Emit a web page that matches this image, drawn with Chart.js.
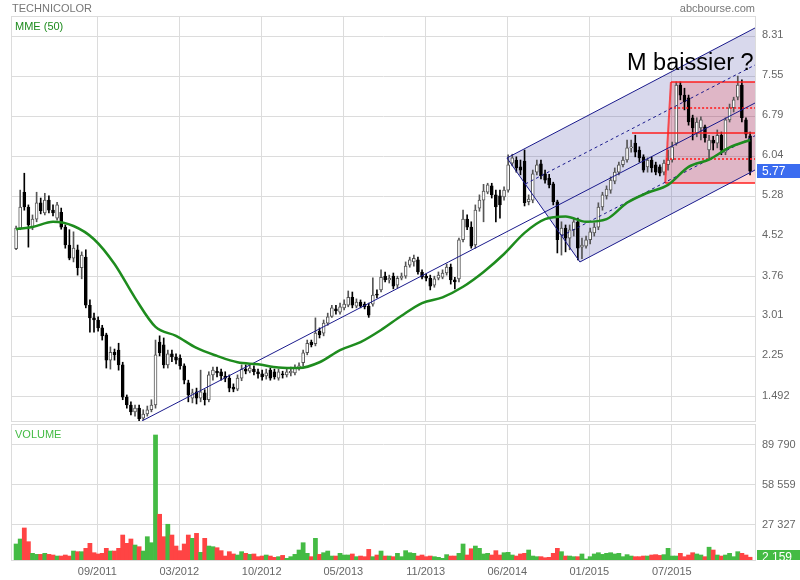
<!DOCTYPE html>
<html>
<head>
<meta charset="utf-8">
<script src="https://cdn.jsdelivr.net/npm/chart.js@4.4.0/dist/chart.umd.min.js"></script>
<style>
  body { margin: 0; background: #fff; font-family: "Liberation Sans", Arial, sans-serif; }
  #wrap { position: relative; width: 800px; height: 580px; overflow: hidden; }
  canvas { position: absolute; left: 0; }
  .lbl { position: absolute; font-size: 11px; white-space: nowrap; }
</style>
</head>
<body>
<div id="wrap">
  <canvas id="prix" width="800" height="423" style="top:0"></canvas>
  <canvas id="vol" width="800" height="157" style="top:423px"></canvas>
  <div class="lbl" style="left:12px;top:2px;color:#777">TECHNICOLOR</div>
  <div class="lbl" style="right:45px;top:2px;color:#777">abcbourse.com</div>
  <div class="lbl" style="left:15px;top:20px;color:#1e8c1e">MME (50)</div>
  <div class="lbl" style="left:15px;top:428px;color:#44bb44">VOLUME</div>
  <div style="position:absolute;left:627px;top:49px;font-size:23.5px;color:#000;white-space:nowrap">M baissier ?</div>
</div>
<script>
// ---- données ----
const dateLabels = ["09/2011", "03/2012", "10/2012", "05/2013", "11/2013", "06/2014", "01/2015", "07/2015"];
const dateTicks = [20.8, 40.8, 60.9, 80.8, 100.9, 120.8, 140.8, 160.9];
const xMax = 181.2;

const priceLabels = ["1.492", "2.25", "3.01", "3.76", "4.52", "5.28", "6.04", "6.79", "7.55", "8.31"];
const priceTicks = [1.492, 2.25, 3.008, 3.765, 4.523, 5.281, 6.038, 6.796, 7.554, 8.311];
const volLabels = ["27 327", "58 559", "89 790"];
const volTicks = [27327, 58559, 89790];

const opens = [
  4.30,4.69,5.37,5.09,4.71,4.86,5.17,4.98,5.22,5.03, 4.88,4.99,4.71,4.37,4.12,4.28,3.94,4.14,3.23,2.99,
  2.95,2.80,2.67,2.19,2.34,2.38,2.10,1.49,1.34,1.21, 1.28,1.09,1.17,1.25,1.34,2.53,2.48,2.10,2.31,2.25,
  2.23,2.08,1.76,1.47,1.59,1.47,1.57,1.44,1.91,1.98, 1.97,1.89,1.85,1.68,1.64,1.85,2.02,1.98,2.02,1.97,
  1.93,1.89,2.00,1.97,1.85,1.93,1.91,1.95,1.95,2.04, 2.14,2.33,2.53,2.50,2.74,2.70,2.89,3.02,3.16,3.10,
  3.18,3.23,3.38,3.21,3.29,3.25,3.21,3.25,3.44,3.52, 3.78,3.71,3.78,3.61,3.74,3.78,3.99,4.05,4.09,3.86,
  3.78,3.74,3.61,3.74,3.76,3.84,3.95,3.71,3.73,4.47, 4.86,4.71,4.37,5.07,5.22,5.37,5.49,5.32,5.30,5.28,
  5.41,5.92,5.98,5.85,5.96,5.19,5.22,5.75,5.91,5.72, 5.64,5.53,5.19,4.56,4.69,4.50,4.66,4.81,4.33,4.35,
  4.47,4.60,4.71,5.09,5.30,5.41,5.58,5.75,5.89,5.98, 6.21,6.30,6.17,6.04,5.85,5.98,5.89,5.85,5.75,5.89,
  5.98,6.30,7.40,7.21,7.16,6.78,6.49,6.59,6.61,6.17, 6.36,6.30,6.45,6.13,6.74,6.97,7.17,7.40,6.74,6.44
];
const highs = [
  4.73,5.41,5.73,5.13,4.94,5.37,5.26,5.35,5.30,5.13, 5.18,5.07,4.75,4.66,4.62,4.37,4.24,4.28,3.33,3.08,
  3.01,2.85,2.70,2.44,2.40,2.51,2.15,1.53,1.40,1.34, 1.34,1.25,1.32,1.44,2.57,2.65,2.61,2.38,2.38,2.31,
  2.29,2.12,1.81,1.64,1.66,2.00,1.63,1.97,2.06,2.06, 2.02,1.97,1.91,1.74,1.91,2.10,2.10,2.12,2.08,2.02,
  2.00,2.02,2.04,2.02,2.02,1.98,2.02,2.06,2.10,2.14, 2.38,2.57,2.57,2.99,2.80,2.95,3.08,3.23,3.23,3.27,
  3.33,3.50,3.48,3.35,3.33,3.29,3.27,3.75,3.52,3.90, 3.86,3.80,3.84,3.78,3.84,4.05,4.14,4.18,4.14,3.90,
  3.82,3.80,3.78,3.86,3.90,4.01,4.01,3.76,4.50,5.03, 4.94,4.81,5.13,5.32,5.52,5.54,5.54,5.41,5.41,5.47,
  6.08,6.09,6.04,5.98,6.17,5.32,5.79,5.98,5.98,5.79, 5.71,5.56,5.22,4.81,4.75,4.75,4.88,4.88,4.50,4.54,
  4.69,4.79,5.17,5.37,5.49,5.66,5.83,5.94,6.04,6.36, 6.36,6.45,6.23,6.08,6.02,6.04,5.94,5.89,5.98,6.17,
  6.32,7.46,7.46,7.34,7.21,6.83,6.78,6.80,6.64,6.45, 6.43,6.55,6.51,6.78,7.04,7.17,7.57,7.50,6.78,6.51
];
const lows = [
  4.28,4.66,5.03,4.33,4.66,4.81,4.96,4.94,4.98,4.92, 4.84,4.67,4.31,4.09,4.05,3.80,3.73,3.18,2.72,2.72,
  2.74,2.57,2.04,2.02,2.19,2.00,1.44,1.28,1.15,1.13, 1.04,1.06,1.13,1.21,1.28,2.27,2.04,2.04,2.16,2.12,
  2.02,1.74,1.40,1.38,1.36,1.40,1.34,1.40,1.81,1.87, 1.81,1.78,1.59,1.59,1.61,1.80,1.93,1.95,1.91,1.85,
  1.81,1.83,1.81,1.83,1.81,1.85,1.87,1.89,1.91,2.00, 2.08,2.29,2.44,2.46,2.61,2.65,2.85,3.00,3.06,3.06,
  3.14,3.20,3.18,3.18,3.18,3.16,3.00,3.21,3.37,3.48, 3.67,3.65,3.54,3.56,3.71,3.74,3.95,3.97,3.82,3.73,
  3.69,3.52,3.57,3.71,3.73,3.80,3.63,3.54,3.67,4.43, 4.66,4.31,4.31,5.01,4.81,5.34,5.26,4.81,4.88,5.22,
  5.37,5.87,5.75,5.70,5.11,5.13,5.17,5.70,5.62,5.54, 5.45,5.13,4.22,4.18,4.24,4.28,4.54,4.09,4.11,4.31,
  4.39,4.54,4.66,5.03,5.24,5.35,5.53,5.70,5.85,5.94, 6.13,6.04,5.94,5.75,5.75,5.75,5.70,5.68,5.70,5.79,
  5.94,6.26,7.12,6.93,6.64,6.36,6.42,6.36,6.32,6.02, 6.17,6.21,6.08,6.08,6.70,6.89,7.12,6.70,6.40,5.70
];
const closes = [
  4.69,5.09,5.09,4.75,4.86,5.17,5.02,5.22,5.03,4.98, 5.13,4.71,4.37,4.12,4.31,3.94,4.18,3.23,2.99,2.95,
  2.80,2.65,2.19,2.34,2.29,2.10,1.49,1.34,1.21,1.28, 1.08,1.17,1.25,1.34,2.29,2.33,2.10,2.31,2.25,2.19,
  2.08,1.81,1.53,1.57,1.47,1.59,1.44,1.91,2.00,1.95, 1.89,1.85,1.66,1.64,1.85,2.02,1.98,2.04,1.97,1.93,
  1.87,1.95,1.85,1.87,1.97,1.91,1.97,1.98,2.04,2.08, 2.33,2.51,2.48,2.70,2.67,2.89,3.01,3.18,3.12,3.20,
  3.25,3.38,3.23,3.29,3.21,3.20,3.04,3.42,3.42,3.76, 3.71,3.74,3.59,3.74,3.78,3.97,4.09,4.12,3.86,3.76,
  3.74,3.59,3.73,3.80,3.84,3.95,3.71,3.67,4.47,4.86, 4.71,4.35,5.03,5.22,5.39,5.51,5.32,5.09,5.13,5.41,
  5.89,6.02,5.83,5.79,5.17,5.24,5.72,5.89,5.68,5.60, 5.51,5.19,4.47,4.69,4.50,4.66,4.81,4.31,4.37,4.47,
  4.62,4.71,5.09,5.32,5.43,5.60,5.75,5.89,5.98,6.21, 6.23,6.13,6.02,5.79,5.98,5.83,5.75,5.73,5.92,5.98,
  6.23,7.40,7.21,7.08,6.70,6.59,6.70,6.74,6.40,6.36, 6.30,6.45,6.17,6.74,6.97,7.12,7.40,6.78,6.47,5.77
];
const volumes = [
  12500,16400,25000,14300,5200,4400,4400,5200,4400,3900, 3100,3100,3900,3100,7000,6500,6500,9100,13000,5700,
  4700,5200,9100,7000,7000,9100,19500,13000,16400,11700, 10400,7000,18200,13500,97600,35700,18200,27900,19500,10900,
  7300,12500,19500,16900,20800,6000,16900,10900,10400,9600, 7300,3100,6500,4700,3900,6500,5200,4400,4700,2600,
  3100,3900,3100,2100,2600,3600,1300,2600,4400,7800, 13500,5200,2600,16900,4400,5700,7000,3100,3100,5200,
  3900,3900,4700,2600,3100,2600,8300,2600,3900,7000, 3100,3100,2600,5200,2600,7300,5700,5200,3100,3900,
  2600,3100,2600,2100,1300,4200,3100,3100,5200,12500, 3900,8800,10900,9100,4700,5200,3900,7300,3900,5700,
  6000,3900,3100,4700,5200,7800,3100,2600,2600,1800, 2100,5200,9100,6500,3100,3100,2600,2600,4700,800,
  2600,4700,5700,4400,5200,5700,4700,5200,2600,4200, 3100,2600,2600,3100,3100,3900,4200,3600,4200,9100,
  3100,3100,5200,2600,3900,5700,4700,3900,2600,10000, 7800,3900,3100,3900,5200,2600,6500,5200,3900,2159
];

// MME (50), tous les 5 barres
const mmeBar = [1,5,10,15,20,25,30,35,40,45,50,55,60,65,70,75,80,85,90,95,100,105,110,115,120,125,130,135,140,145,150,155,160,165,170,175,180];
const mmeVal = [4.67,4.71,4.81,4.73,4.48,4.01,3.37,2.82,2.65,2.42,2.27,2.15,2.11,2.05,2.04,2.15,2.38,2.53,2.76,3.03,
                3.27,3.38,3.58,3.86,4.20,4.60,4.86,4.91,4.81,4.86,5.17,5.36,5.51,5.85,5.99,6.22,6.36];

// tracés (barre, cours)
const mediane = [[31.7, 1.038], [181.2, 7.060]];
const fourcheHaute = [[120.7, 6.019], [181.2, 8.481]];
const fourcheBasse = [[138.5, 4.049], [181.2, 5.791]];
const fourcheBord = [[120.7, 6.019], [138.5, 4.049]];
const pointilleHaut = [[125.2, 5.527], [181.2, 7.78]];
const pointilleBas = [[134.0, 4.541], [181.2, 6.44]];
const fourcheZone = [[120.7, 6.019], [181.2, 8.481], [181.2, 5.791], [138.5, 4.049]];

const boiteZone = [[159.3, 5.545], [160.7, 7.458], [181.2, 7.458], [181.2, 5.545]];
const boiteHaut = [[160.7, 7.458], [181.2, 7.458]];
const boiteBas = [[159.3, 5.545], [181.2, 5.545]];
const boiteGauche = [[159.3, 5.545], [160.7, 7.458]];
const ligneCou = [[151.2, 6.492], [181.2, 6.492]];
const repereHaut = [[160.5, 6.966], [181.2, 6.966]];
const repereBas = [[159.5, 6.000], [181.2, 6.000]];

// ---- construction ----
Chart.defaults.font.family = '"Liberation Sans", Arial, sans-serif';
Chart.defaults.font.size = 11;
Chart.defaults.color = "#666";

const GRID = "#dcdcdc";
const bars = closes.map((c, i) => i + 1);
const up = closes.map((c, i) => c >= opens[i]);
const toXY = pts => pts.map(p => ({ x: p[0], y: p[1] }));

function ligne(pts, color, width, dash) {
    return {
        type: "line", data: toXY(pts), borderColor: color, borderWidth: width,
        borderDash: dash || [], pointRadius: 0, tension: 0, order: 1
    };
}

// cadre + zones colorées
const fondPlugin = {
    id: "fond",
    beforeDatasetsDraw(chart, args, opts) {
        const { ctx, chartArea: a, scales: { x, y } } = chart;
        ctx.save();
        ctx.strokeStyle = GRID;
        ctx.lineWidth = 1;
        ctx.strokeRect(a.left - 0.5, a.top - 0.5, a.right - a.left + 1, a.bottom - a.top + 1);
        ctx.beginPath();
        ctx.rect(a.left, a.top, a.right - a.left, a.bottom - a.top);
        ctx.clip();
        (opts.zones || []).forEach(z => {
            ctx.beginPath();
            z.pts.forEach((p, i) => {
                const px = x.getPixelForValue(p[0]), py = y.getPixelForValue(p[1]);
                if (i) ctx.lineTo(px, py); else ctx.moveTo(px, py);
            });
            ctx.closePath();
            ctx.fillStyle = z.color;
            ctx.fill();
        });
        ctx.restore();
    }
};

// étiquette de la dernière valeur
const dernierPlugin = {
    id: "dernier",
    afterDraw(chart, args, opts) {
        const { ctx, chartArea: a, scales: { y } } = chart;
        const py = Math.round(y.getPixelForValue(opts.value));
        ctx.save();
        ctx.beginPath();
        ctx.rect(a.right, 0, chart.width - a.right, a.bottom);
        ctx.clip();
        ctx.fillStyle = opts.color;
        ctx.fillRect(a.right + 2, py - 7, chart.width - a.right - 2, 14);
        ctx.fillStyle = "#fff";
        ctx.font = '12px "Liberation Sans", Arial, sans-serif';
        ctx.textBaseline = "middle";
        ctx.fillText(opts.text, a.right + 7, py + 1);
        ctx.restore();
    }
};

// axe vertical à largeur fixe, sans marge pour les étiquettes
const axeFixe = s => { s.width = 45; s.paddingTop = 0; s.paddingBottom = 0; };

const xCommun = {
    type: "linear", min: 0, max: xMax, offset: false,
    afterBuildTicks: s => { s.ticks = dateTicks.map(v => ({ value: v })); },
    grid: { color: GRID, drawTicks: false, offset: false },
    border: { display: false }
};

new Chart(document.getElementById("prix"), {
    type: "bar",
    data: {
        datasets: [
            {
                type: "line", data: mmeBar.map((b, i) => ({ x: b, y: mmeVal[i] })),
                borderColor: "#1e8c1e", borderWidth: 2.5, pointRadius: 0,
                cubicInterpolationMode: "monotone", order: 0
            },
            ligne(mediane, "#1a1a8c", 1),
            ligne(fourcheHaute, "#1a1a8c", 1),
            ligne(fourcheBasse, "#1a1a8c", 1),
            ligne(fourcheBord, "#1a1a8c", 1),
            ligne(pointilleHaut, "#1a1a8c", 1, [3, 3]),
            ligne(pointilleBas, "#1a1a8c", 1, [3, 3]),
            ligne(boiteHaut, "rgba(255,30,30,0.75)", 2),
            ligne(boiteBas, "rgba(255,30,30,0.75)", 2),
            ligne(boiteGauche, "rgba(255,30,30,0.75)", 2),
            ligne(ligneCou, "rgba(255,30,30,0.75)", 2),
            ligne(repereHaut, "rgba(255,30,30,0.8)", 2, [2, 2]),
            ligne(repereBas, "rgba(255,30,30,0.8)", 2, [2, 2]),
            {
                data: bars.map((b, i) => ({ x: b, y: [opens[i], closes[i]] })),
                backgroundColor: up.map(u => u ? "#fff" : "#000"),
                borderColor: up.map(u => u ? "#555" : "#000"),
                borderWidth: 1, borderSkipped: false, barThickness: 3, grouped: false, order: 2
            },
            {
                data: bars.map((b, i) => ({ x: b, y: [lows[i], highs[i]] })),
                backgroundColor: up.map(u => u ? "#555" : "#000"),
                borderWidth: 0, barThickness: 1, grouped: false, order: 3
            }
        ]
    },
    options: {
        responsive: false, animation: false, devicePixelRatio: 1, events: [],
        layout: { padding: { left: 12, top: 17, right: 0, bottom: 2 } },
        plugins: {
            legend: { display: false }, tooltip: { enabled: false },
            fond: { zones: [
                { pts: fourcheZone, color: "rgba(60,60,160,0.2)" },
                { pts: boiteZone, color: "rgba(255,0,0,0.16)" }
            ] },
            dernier: { value: closes[closes.length - 1], text: "5.77", color: "#3b6cf0" }
        },
        scales: {
            x: Object.assign({}, xCommun, {
                ticks: { display: false },
                afterFit: s => { s.height = 0; s.paddingLeft = 0; s.paddingRight = 0; }
            }),
            y: {
                position: "right", min: 1.037, max: 8.689,
                afterBuildTicks: s => { s.ticks = priceTicks.map(v => ({ value: v })); },
                afterFit: axeFixe,
                ticks: { callback: (v, i) => priceLabels[i], padding: 7, labelOffset: -1.5 },
                grid: { color: GRID, drawTicks: false },
                border: { display: false }
            }
        }
    },
    plugins: [fondPlugin, dernierPlugin]
});

new Chart(document.getElementById("vol"), {
    type: "bar",
    data: {
        datasets: [{
            data: bars.map((b, i) => ({ x: b, y: volumes[i] })),
            backgroundColor: up.map(u => u ? "#44bb44" : "#ff4444"),
            barPercentage: 1, categoryPercentage: 1, borderWidth: 0, grouped: false
        }]
    },
    options: {
        responsive: false, animation: false, devicePixelRatio: 1, events: [],
        layout: { padding: { left: 12, top: 2, right: 0, bottom: 0 } },
        plugins: {
            legend: { display: false }, tooltip: { enabled: false },
            fond: { zones: [] },
            dernier: { value: volumes[volumes.length - 1], text: "2 159", color: "#44bb44" }
        },
        scales: {
            x: Object.assign({}, xCommun, {
                ticks: { callback: (v, i) => dateLabels[i], padding: 5, autoSkip: false, maxRotation: 0 },
                afterFit: s => { s.height = 20; s.paddingLeft = 0; s.paddingRight = 0; }
            }),
            y: {
                position: "right", min: 0, max: 105400,
                afterBuildTicks: s => { s.ticks = volTicks.map(v => ({ value: v })); },
                afterFit: axeFixe,
                ticks: { callback: (v, i) => volLabels[i], padding: 7 },
                grid: { color: GRID, drawTicks: false },
                border: { display: false }
            }
        }
    },
    plugins: [fondPlugin, dernierPlugin]
});
</script>
</body>
</html>
